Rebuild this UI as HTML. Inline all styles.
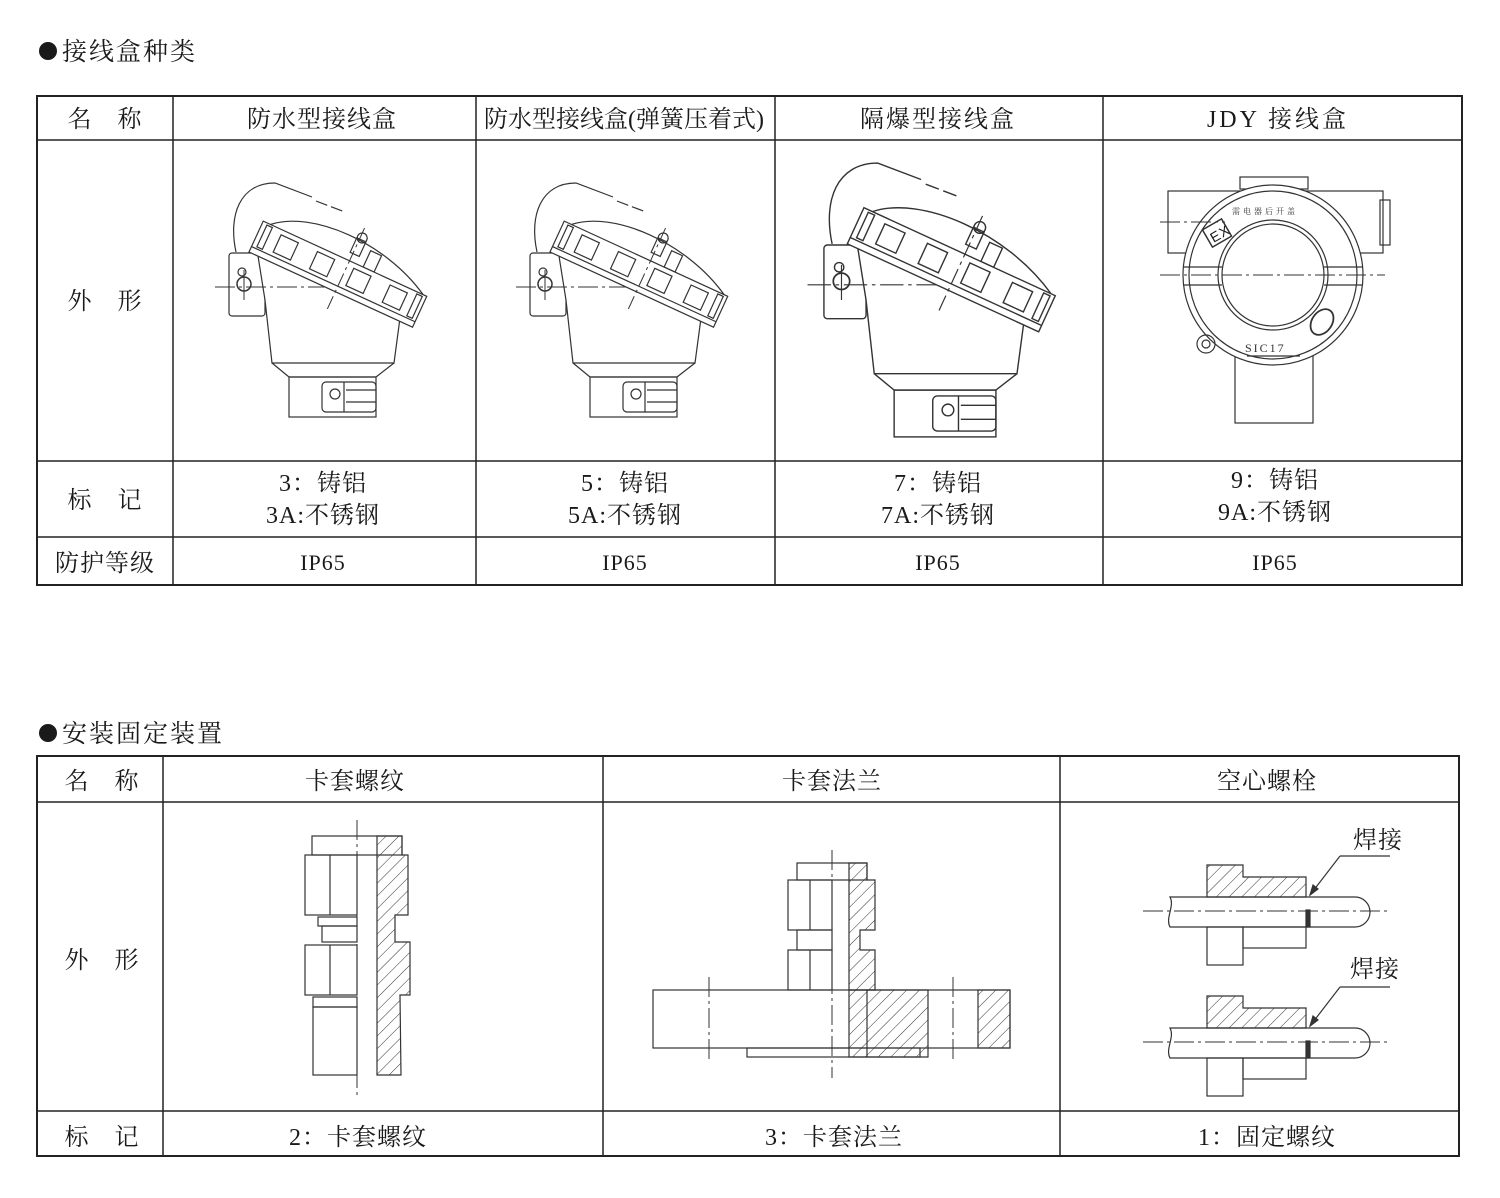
<!DOCTYPE html>
<html><head><meta charset="utf-8">
<style>
html,body{margin:0;padding:0;background:#fff;}
svg{display:block;}
text{font-family:"Liberation Serif","Noto Serif CJK SC","Noto Sans CJK SC",serif;fill:#1a1a1a;font-size:24px;letter-spacing:1px;}
</style></head>
<body>
<svg width="1500" height="1198" viewBox="0 0 1500 1198" xmlns="http://www.w3.org/2000/svg">
<defs>
<pattern id="h" width="9" height="9" patternUnits="userSpaceOnUse" patternTransform="rotate(45)">
<line x1="0" y1="0" x2="0" y2="9" stroke="#333" stroke-width="1"/>
</pattern>
<g id="box" fill="none" stroke="#333" stroke-width="1.2">
<rect x="229" y="253" width="36" height="63" rx="3" fill="#fff"/>
<path d="M258,256 L265,300 L272,363 L394,363 L400,318" fill="#fff"/>
<path d="M272,363 L289,377 L376,377 L394,363"/>
<rect x="289" y="377" width="87" height="40"/>
<rect x="322" y="382" width="54" height="30" rx="4"/>
<circle cx="335" cy="394" r="5"/>
<line x1="344" y1="382" x2="344" y2="412"/>
<line x1="346" y1="390" x2="376" y2="390"/>
<line x1="346" y1="402" x2="376" y2="402"/>
<line x1="215" y1="287" x2="372" y2="287" stroke-dasharray="20,4,3,4" stroke-width="1"/>
<line x1="244" y1="270" x2="244" y2="300" stroke-width="1"/>
<circle cx="244" cy="284" r="7" stroke-width="1.5"/>
<circle cx="242" cy="272" r="4"/>
<path d="M236,252 C228,215 240,183 275,183 L312,197"/>
<line x1="316" y1="201" x2="345" y2="212" stroke-dasharray="12,4"/>
<g transform="translate(249,252) rotate(24.7)">
<path d="M8,-34 C40,-64 120,-66 176,-34" fill="#fff"/>
<rect x="92" y="-58" width="10" height="16"/>
<rect x="110" y="-52" width="12" height="18"/>
<circle cx="97" cy="-60" r="5"/>
<rect x="0" y="-34" width="180" height="34" fill="#fff"/>
<line x1="0" y1="-6" x2="180" y2="-6"/>
<rect x="5" y="-32" width="6" height="24"/>
<rect x="170" y="-32" width="6" height="24"/>
<rect x="22" y="-29" width="19" height="19"/>
<rect x="62" y="-29" width="19" height="19"/>
<rect x="102" y="-29" width="19" height="19"/>
<rect x="142" y="-29" width="19" height="19"/>
<line x1="95" y1="-70" x2="95" y2="20" stroke-dasharray="14,4,3,4" stroke-width="1"/>
</g>
</g>
</defs>

<circle cx="48" cy="51" r="9" fill="#1a1a1a"/>
<text x="62" y="60" style="font-size:25px;letter-spacing:2px">接线盒种类</text>
<circle cx="48" cy="733" r="9" fill="#1a1a1a"/>
<text x="62" y="742" style="font-size:25px;letter-spacing:2px">安装固定装置</text>

<g stroke="#222" fill="none">
<rect x="37" y="96" width="1425" height="489" stroke-width="2"/>
<line x1="173" y1="96" x2="173" y2="585" stroke-width="1.5"/>
<line x1="476" y1="96" x2="476" y2="585" stroke-width="1.5"/>
<line x1="775" y1="96" x2="775" y2="585" stroke-width="1.5"/>
<line x1="1103" y1="96" x2="1103" y2="585" stroke-width="1.5"/>
<line x1="37" y1="140" x2="1462" y2="140" stroke-width="1.5"/>
<line x1="37" y1="461" x2="1462" y2="461" stroke-width="1.5"/>
<line x1="37" y1="537" x2="1462" y2="537" stroke-width="1.5"/>
</g>
<g text-anchor="middle">
<text x="105" y="127">名　称</text>
<text x="322" y="127">防水型接线盒</text>
<text x="624" y="127" style="letter-spacing:0px">防水型接线盒(弹簧压着式)</text>
<text x="938" y="127" style="letter-spacing:2px">隔爆型接线盒</text>
<text x="1278" y="127" style="letter-spacing:3px">JDY 接线盒</text>
<text x="105" y="309">外　形</text>
<text x="105" y="508">标　记</text>
<text x="323" y="491">3：铸铝</text>
<text x="323" y="523">3A:不锈钢</text>
<text x="625" y="491">5：铸铝</text>
<text x="625" y="523">5A:不锈钢</text>
<text x="938" y="491">7：铸铝</text>
<text x="938" y="523">7A:不锈钢</text>
<text x="1275" y="488">9：铸铝</text>
<text x="1275" y="520">9A:不锈钢</text>
<text x="105" y="571">防护等级</text>
<text x="323" y="570" style="font-size:22px">IP65</text>
<text x="625" y="570" style="font-size:22px">IP65</text>
<text x="938" y="570" style="font-size:22px">IP65</text>
<text x="1275" y="570" style="font-size:22px">IP65</text>
</g>

<use href="#box"/>
<use href="#box" transform="translate(301,0)"/>
<use href="#box" transform="translate(556,-51) scale(1.17)"/>

<g fill="none" stroke="#333" stroke-width="1.2">
<rect x="1168" y="191" width="215" height="62" fill="#fff"/>
<rect x="1380" y="200" width="10" height="45"/>
<rect x="1240" y="177" width="68" height="12"/>
<rect x="1235" y="350" width="78" height="73" fill="#fff"/>
<circle cx="1273" cy="275" r="90" fill="#fff"/>
<circle cx="1273" cy="275" r="84"/>
<circle cx="1273" cy="275" r="55"/>
<circle cx="1273" cy="275" r="51"/>
<line x1="1183" y1="267" x2="1222" y2="267"/>
<line x1="1183" y1="285" x2="1222" y2="285"/>
<line x1="1324" y1="267" x2="1363" y2="267"/>
<line x1="1324" y1="285" x2="1363" y2="285"/>
<line x1="1160" y1="275" x2="1385" y2="275" stroke-dasharray="20,4,3,4" stroke-width="1"/>
<line x1="1160" y1="222" x2="1225" y2="222" stroke-dasharray="20,4,3,4" stroke-width="1"/>
<rect x="1206" y="223" width="22" height="20" transform="rotate(-30 1217 233)" stroke-width="1.5"/>
<ellipse cx="1322" cy="322" rx="10" ry="14" transform="rotate(35 1322 322)" stroke-width="1.8"/>
<circle cx="1206" cy="344" r="9"/>
<circle cx="1206" cy="344" r="4"/>
<line x1="1247" y1="356" x2="1300" y2="356"/>
</g>
<text x="1209" y="240" transform="rotate(-30 1217 233)" style="font-size:14px;font-family:'Liberation Sans',sans-serif">EX</text>
<text x="1245" y="352" style="font-size:12px;letter-spacing:2px;fill:#333">SIC17</text>
<text x="1232" y="214" style="font-size:8px;letter-spacing:3px;fill:#333">需电器后开盖</text>

<g stroke="#222" fill="none">
<rect x="37" y="756" width="1422" height="400" stroke-width="2"/>
<line x1="163" y1="756" x2="163" y2="1156" stroke-width="1.5"/>
<line x1="603" y1="756" x2="603" y2="1156" stroke-width="1.5"/>
<line x1="1060" y1="756" x2="1060" y2="1156" stroke-width="1.5"/>
<line x1="37" y1="802" x2="1459" y2="802" stroke-width="1.5"/>
<line x1="37" y1="1111" x2="1459" y2="1111" stroke-width="1.5"/>
</g>
<g text-anchor="middle">
<text x="102" y="789">名　称</text>
<text x="355" y="789">卡套螺纹</text>
<text x="832" y="789">卡套法兰</text>
<text x="1267" y="789">空心螺栓</text>
<text x="102" y="968">外　形</text>
<text x="102" y="1145">标　记</text>
<text x="358" y="1145">2：卡套螺纹</text>
<text x="834" y="1145">3：卡套法兰</text>
<text x="1267" y="1145">1：固定螺纹</text>
</g>

<g fill="none" stroke="#333" stroke-width="1.2">
<rect x="312" y="836" width="90" height="19"/>
<rect x="305" y="855" width="52" height="60"/>
<line x1="330" y1="855" x2="330" y2="915"/>
<rect x="318" y="917" width="39" height="9"/>
<rect x="322" y="926" width="35" height="16"/>
<rect x="305" y="945" width="52" height="50"/>
<line x1="330" y1="945" x2="330" y2="995"/>
<rect x="313" y="997" width="44" height="10"/>
<rect x="313" y="1007" width="44" height="68"/>
<path d="M377,836 L402,836 L402,855 L408,855 L408,915 L395,915 L395,942 L410,942 L410,995 L400,995 L401,1075 L377,1075 Z" fill="url(#h)"/>
<line x1="357" y1="820" x2="357" y2="1095" stroke-dasharray="20,4,3,4" stroke-width="1"/>
</g>

<g fill="none" stroke="#333" stroke-width="1.2">
<rect x="653" y="990" width="357" height="58" fill="#fff"/>
<rect x="747" y="1048" width="173" height="9"/>
<rect x="797" y="863" width="70" height="17"/>
<rect x="788" y="880" width="44" height="50"/>
<line x1="810" y1="880" x2="810" y2="930"/>
<rect x="797" y="930" width="35" height="20"/>
<rect x="788" y="950" width="44" height="40"/>
<line x1="810" y1="950" x2="810" y2="990"/>
<path d="M849,863 L867,863 L867,880 L875,880 L875,930 L860,930 L860,950 L875,950 L875,990 L849,990 Z" fill="url(#h)"/>
<path d="M849,990 L928,990 L928,1057 L849,1057 Z" fill="url(#h)"/>
<line x1="867" y1="990" x2="867" y2="1057"/>
<rect x="978" y="990" width="32" height="58" fill="url(#h)"/>
<line x1="832" y1="850" x2="832" y2="1078" stroke-dasharray="20,4,3,4" stroke-width="1"/>
<line x1="709" y1="977" x2="709" y2="1062" stroke-dasharray="20,4,3,4" stroke-width="1"/>
<line x1="953" y1="977" x2="953" y2="1062" stroke-dasharray="20,4,3,4" stroke-width="1"/>
</g>

<g fill="none" stroke="#333" stroke-width="1.2">
<g id="hb">
<path d="M1170,897 L1355,897 A15,15 0 0 1 1355,927 L1170,927 C1165,918 1175,906 1170,897 Z" fill="#fff"/>
<path d="M1207,865 L1243,865 L1243,877 L1306,877 L1306,897 L1207,897 Z" fill="url(#h)"/>
<rect x="1207" y="927" width="36" height="38"/>
<rect x="1243" y="927" width="63" height="21"/>
<line x1="1143" y1="911" x2="1390" y2="911" stroke-dasharray="20,4,3,4" stroke-width="1"/>
<rect x="1306" y="910" width="4" height="17" fill="#333"/>
<line x1="1340" y1="856" x2="1390" y2="856"/>
<line x1="1340" y1="856" x2="1310" y2="895"/>
<path d="M1310,895 L1313,885 L1318,889 Z" fill="#333"/>
</g>
<use href="#hb" transform="translate(0,131)"/>
</g>
<text x="1353" y="848">焊接</text>
<text x="1350" y="977">焊接</text>
</svg>
</body></html>
